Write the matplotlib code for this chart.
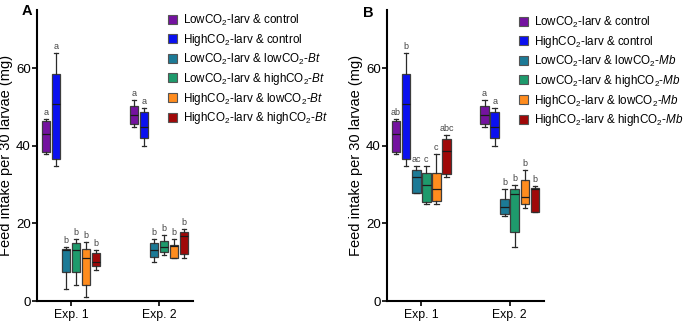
import matplotlib
matplotlib.use("Agg")
import matplotlib.pyplot as plt
from matplotlib.patches import Patch

plt.rcParams['font.family'] = ['Liberation Sans', 'DejaVu Sans']
plt.rcParams['mathtext.fontset'] = 'custom'
plt.rcParams['mathtext.rm'] = 'Liberation Sans'
plt.rcParams['mathtext.it'] = 'Liberation Sans:italic'

# ---------------- data ----------------
experiments = ["Exp. 1", "Exp. 2"]
colors = ["#7412A0", "#0A10F0", "#1C7A96", "#1E9A6C", "#FF8C1E", "#A00808"]

labels_A = [r"LowCO$_2$-larv & control", r"HighCO$_2$-larv & control",
            r"LowCO$_2$-larv & lowCO$_2$-$\mathit{Bt}$", r"LowCO$_2$-larv & highCO$_2$-$\mathit{Bt}$",
            r"HighCO$_2$-larv & lowCO$_2$-$\mathit{Bt}$", r"HighCO$_2$-larv & highCO$_2$-$\mathit{Bt}$"]
labels_B = [r"LowCO$_2$-larv & control", r"HighCO$_2$-larv & control",
            r"LowCO$_2$-larv & lowCO$_2$-$\mathit{Mb}$", r"LowCO$_2$-larv & highCO$_2$-$\mathit{Mb}$",
            r"HighCO$_2$-larv & lowCO$_2$-$\mathit{Mb}$", r"HighCO$_2$-larv & highCO$_2$-$\mathit{Mb}$"]

# Panel A: per exp, six groups (purple, blue, teal, green, orange, red)
A_whislo = [[37.8, 34.9, 3.0, 4.1, 1.0, 8.0], [44.8, 40.0, 10.0, 11.9, 11.0, 11.0]]
A_q1     = [[38.5, 36.5, 7.6, 7.6, 4.1, 9.0], [45.5, 42.0, 11.3, 12.6, 11.0, 12.1]]
A_med    = [[43.0, 50.9, 13.2, 13.2, 11.0, 10.0], [48.0, 44.9, 13.1, 14.0, 14.2, 16.8]]
A_q3     = [[46.3, 58.4, 13.5, 14.9, 13.4, 12.5], [50.2, 48.7, 14.9, 15.4, 14.4, 17.9]]
A_whishi = [[46.9, 63.9, 14.0, 16.0, 15.1, 13.2], [51.8, 49.8, 15.9, 16.9, 15.9, 18.5]]
A_letters = [["a", "a", "b", "b", "b", "b"], ["a", "a", "b", "b", "b", "b"]]

# Panel B
B_whislo = [[37.8, 34.9, 27.9, 24.9, 24.9, 31.9], [44.8, 40.0, 21.9, 14.0, 23.9, 22.9]]
B_q1     = [[38.5, 36.5, 27.9, 25.4, 25.9, 32.8], [45.5, 42.0, 22.5, 17.9, 24.9, 22.9]]
B_med    = [[43.0, 50.9, 31.9, 29.8, 28.8, 38.7], [48.0, 44.9, 24.1, 27.7, 26.7, 28.8]]
B_q3     = [[46.3, 58.4, 33.8, 33.1, 33.1, 41.8], [50.2, 48.7, 26.3, 28.8, 31.3, 29.0]]
B_whishi = [[46.9, 63.9, 34.9, 34.9, 37.9, 42.7], [51.8, 49.8, 28.9, 29.8, 33.8, 29.7]]
B_letters = [["ab", "b", "ac", "c", "c", "abc"], ["a", "a", "b", "b", "b", "b"]]

yticks = [0, 20, 40, 60]
ylabel = "Feed intake per 30 larvae (mg)"

# ---------------- plotting ----------------
fig = plt.figure(figsize=(6.85, 3.25), dpi=100)
W, H = 685, 325

def px_axes(l, r, t, b):
    return fig.add_axes([l / W, (H - b) / H, (r - l) / W, (b - t) / H])

axA = px_axes(37, 193, 10, 301)
axB = px_axes(387, 544, 10, 301)

step = 0.114
bw = 0.098
edge = "#3c3c3c"

def draw(ax, wlo, q1, med, q3, whi, letters, labels, leg_xy, letter, letter_xy):
    for e in range(2):
        for g in range(6):
            pos = (e + 1) + (g - 2.5) * step
            st = [dict(whislo=wlo[e][g], q1=q1[e][g], med=med[e][g], q3=q3[e][g],
                       whishi=whi[e][g], fliers=[])]
            ax.bxp(st, positions=[pos], widths=bw, patch_artist=True, showfliers=False,
                   boxprops=dict(facecolor=colors[g], edgecolor=edge, linewidth=0.9),
                   medianprops=dict(color="#1a1a1a", linewidth=0.9),
                   whiskerprops=dict(color="#2a2a2a", linewidth=0.9),
                   capprops=dict(color="#2a2a2a", linewidth=0.9),
                   capwidths=bw * 0.55, manage_ticks=False)
            ax.annotate(letters[e][g], (pos, whi[e][g]), xytext=(0, 1.5),
                        textcoords="offset points", ha="center", va="bottom",
                        fontsize=6.5, color="#444444")
    ax.set_xlim(1 - 34 / 88, 2 + 34 / 88)
    ax.set_ylim(0, 75)
    ax.set_yticks(yticks)
    ax.set_xticks([1, 2])
    ax.set_xticklabels(experiments, fontsize=8.8)
    ax.tick_params(axis="y", labelsize=9.5, length=3.5, width=1.2, pad=1)
    ax.tick_params(axis="x", length=3.5, width=1.2, pad=2)
    for s in ["top", "right"]:
        ax.spines[s].set_visible(False)
    for s in ["left", "bottom"]:
        ax.spines[s].set_linewidth(1.5)
    ax.set_ylabel(ylabel, fontsize=10.5, labelpad=2)
    handles = [Patch(facecolor=c, edgecolor="#555555", linewidth=0.8) for c in colors]
    fig.legend(handles, labels, loc="upper left", bbox_to_anchor=leg_xy,
               bbox_transform=fig.transFigure, frameon=False, fontsize=8.4,
               handlelength=0.8, handleheight=0.8, handletextpad=0.45,
               labelspacing=0.33, borderpad=0, borderaxespad=0)
    fig.text(letter_xy[0] / W, 1 - letter_xy[1] / H, letter, fontsize=10.5,
             fontweight="bold", ha="left", va="top")

draw(axA, A_whislo, A_q1, A_med, A_q3, A_whishi, A_letters, labels_A,
     (168 / W, 1 - 13 / H), "A", (22, 4))
draw(axB, B_whislo, B_q1, B_med, B_q3, B_whishi, B_letters, labels_B,
     (519 / W, 1 - 15 / H), "B", (363, 6))

fig.savefig("out.png", dpi=100)
